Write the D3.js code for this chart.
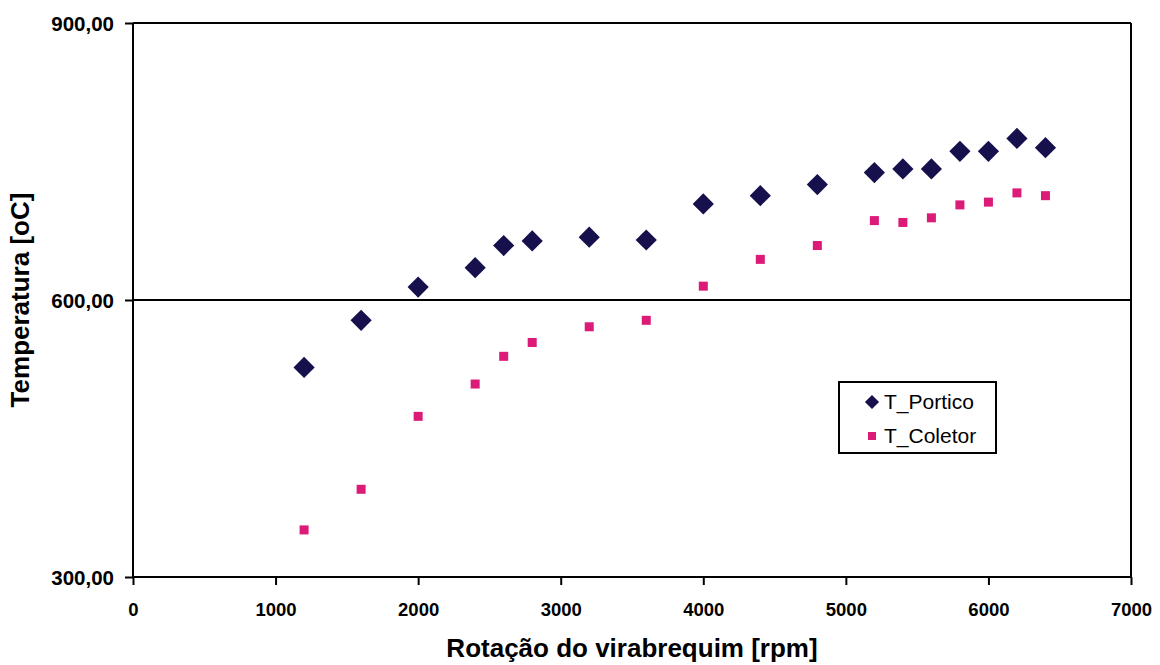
<!DOCTYPE html>
<html><head><meta charset="utf-8">
<script src="https://cdn.jsdelivr.net/npm/d3@7"></script>
<style>body{margin:0;background:#fff}svg{display:block}</style>
</head><body>
<svg id="c" width="1160" height="665"></svg>
<script>
const rpm = [1200,1600,2000,2400,2600,2800,3200,3600,4000,4400,4800,5200,5400,5600,5800,6000,6200,6400];
const tPortico = [527,578,614,635,659,664,668,665,704,713,725,738,742,742,761,761,775,765];
const tColetor = [351,395,474,509,539,554,571,578,615,644,659,686,684,689,703,706,716,713];
const xTicks = [0,1000,2000,3000,4000,5000,6000,7000];
const yTicks = [300,600,900];
const seriesNames = ["T_Portico","T_Coletor"];

const FF = "'Liberation Sans',Arial,sans-serif";
const svg = d3.select("#c");
const m = {l:133,r:1131,t:23,b:577};
const x = d3.scaleLinear().domain([0,7000]).range([m.l,m.r]);
const y = d3.scaleLinear().domain([300,900]).range([m.b,m.t]);
const fmtY = v => d3.format(".2f")(v).replace(".",",");

svg.append("g").selectAll("line").data(yTicks.filter(v=>v>300)).join("line")
  .attr("x1",m.l).attr("x2",m.r).attr("y1",d=>y(d)).attr("y2",d=>y(d))
  .attr("stroke","#000").attr("stroke-width",2);
svg.append("line").attr("x1",m.r).attr("x2",m.r).attr("y1",m.t).attr("y2",m.b)
  .attr("stroke","#000").attr("stroke-width",2);

const xAxis = svg.append("g").attr("transform",`translate(0,${m.b})`)
  .call(d3.axisBottom(x).tickValues(xTicks).tickSize(8).tickPadding(18).tickFormat(d3.format("d")));
const yAxis = svg.append("g").attr("transform",`translate(${m.l},0)`)
  .call(d3.axisLeft(y).tickValues(yTicks).tickSize(8).tickPadding(11).tickFormat(fmtY));
[xAxis,yAxis].forEach(g=>{
  g.select(".domain").attr("stroke","#000").attr("stroke-width",2);
  g.selectAll(".tick line").attr("stroke","#000").attr("stroke-width",2);
  g.selectAll("text").attr("fill","#000").style("font-family",FF).style("font-weight","bold");
});
xAxis.selectAll("text").style("font-size","18.5px");
yAxis.selectAll("text").style("font-size","20.5px");
xAxis.select(".domain").attr("d",`M${m.l},0H${m.r}`);
yAxis.select(".domain").attr("d",`M0,${m.b}V${m.t}`);
yAxis.selectAll(".tick text").attr("dy","0.35em");

const diamond = d3.symbol().type(d3.symbolSquare).size(225);
svg.append("g").selectAll("path").data(rpm.map((r,i)=>[r,tPortico[i]])).join("path")
  .attr("d",diamond)
  .attr("transform",d=>`translate(${x(d[0])},${y(d[1])}) rotate(45)`)
  .attr("fill","#16114d");
svg.append("g").selectAll("rect").data(rpm.map((r,i)=>[r,tColetor[i]])).join("rect")
  .attr("x",d=>x(d[0])-4.5).attr("y",d=>y(d[1])-4.5).attr("width",9).attr("height",9)
  .attr("fill","#dc1a78");

const lg = svg.append("g");
lg.append("rect").attr("x",839).attr("y",382).attr("width",157).attr("height",71)
  .attr("fill","#fff").attr("stroke","#000").attr("stroke-width",2);
lg.append("path").attr("d",d3.symbol().type(d3.symbolSquare).size(100))
  .attr("transform","translate(872,402) rotate(45)").attr("fill","#16114d");
lg.append("rect").attr("x",868).attr("y",432).attr("width",8).attr("height",8).attr("fill","#dc1a78");
lg.selectAll("text").data(seriesNames).join("text")
  .attr("x",884).attr("y",(d,i)=>409+i*34).text(d=>d)
  .style("font-family",FF).style("font-size","21px").attr("fill","#000");

svg.append("text").attr("x",632).attr("y",657).attr("text-anchor","middle")
  .style("font-family",FF).style("font-size","26px").style("font-weight","bold")
  .text("Rotação do virabrequim [rpm]");
svg.append("text").attr("transform","translate(29,300) rotate(-90)").attr("text-anchor","middle")
  .style("font-family",FF).style("font-size","26px").style("font-weight","bold")
  .text("Temperatura [oC]");
</script>
</body></html>
